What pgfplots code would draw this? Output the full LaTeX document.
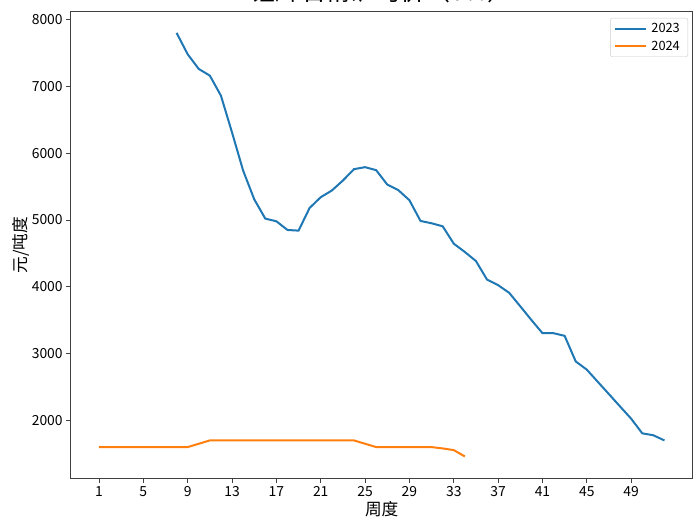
\documentclass[border=0pt]{standalone}
\usepackage{pgfplots}
\pgfplotsset{compat=1.18}
\usepackage{fontspec}
\setmainfont{Noto Sans CJK SC}
\usetikzlibrary{calc}
\definecolor{c0}{HTML}{1F77B4}
\definecolor{c1}{HTML}{FF7F0E}
\begin{document}
\begin{tikzpicture}
\begin{axis}[name=ax, width=622bp, height=466.6bp, scale only axis,
  xmin=-1.55, xmax=54.55, ymin=1133, ymax=8117,
  xtick={1,5,...,49}, ytick={2000,3000,...,8000},
  tick align=outside, major tick length=4.5bp, tick pos=left,
  axis line style={black!75, line width=0.8bp},
  tick style={black!75, line width=0.8bp},
  ticklabel style={font=\fontsize{13.9bp}{16bp}\selectfont},
  /pgf/number format/assume math mode=true,
  /pgf/number format/set thousands separator={},
  scaled ticks=false,
  xlabel={周度}, ylabel={元/吨度},
  label style={font=\fontsize{16.7bp}{20bp}\selectfont},
  xlabel style={at={(axis description cs:0.5,-0.0658)}, anchor=center},
  ylabel style={at={(axis description cs:-0.0799,0.5)}, anchor=center},
  title={锂辉石精矿均价（6\%）},
  title style={at={(axis description cs:0.5,1)}, anchor=base, yshift=5.5bp, font=\fontsize{25bp}{30bp}\selectfont},
  legend style={at={(axis description cs:0.9925,0.9865)}, anchor=north east, draw=black!20, rounded corners=2bp, font=\fontsize{12.8bp}{15bp}\selectfont, row sep=3bp, inner xsep=4bp, inner ysep=3bp,
    nodes={inner xsep=4bp}},
  legend cell align=left,
  legend image code/.code={\draw[#1, line width=2bp] (0bp,0bp) -- (31bp,0bp);},
]
\addplot[c0, line width=2bp] coordinates {
(8,7800) (9,7480) (10,7260) (11,7160) (12,6860) (13,6310) (14,5740) (15,5310) (16,5020) (17,4980)
(18,4850) (19,4840) (20,5180) (21,5340) (22,5440) (23,5590) (24,5760) (25,5790) (26,5745) (27,5530)
(28,5446) (29,5295) (30,4985) (31,4950) (32,4905) (33,4645) (34,4520) (35,4385) (36,4107) (37,4024)
(38,3909) (39,3707) (40,3503) (41,3305) (42,3305) (43,3265) (44,2882) (45,2759) (46,2575) (47,2392)
(48,2208) (49,2025) (50,1806) (51,1777) (52,1700)
};
\addlegendentry{2023}
\addplot[c1, line width=2bp] coordinates {
(1,1600) (2,1600) (3,1600) (4,1600) (5,1600) (6,1600) (7,1600) (8,1600) (9,1600) (10,1650)
(11,1700) (12,1700) (13,1700) (14,1700) (15,1700) (16,1700) (17,1700) (18,1700) (19,1700) (20,1700)
(21,1700) (22,1700) (23,1700) (24,1700) (25,1650) (26,1600) (27,1600) (28,1600) (29,1600) (30,1600)
(31,1600) (32,1580) (33,1555) (34,1460)
};
\addlegendentry{2024}
\end{axis}
\pgfresetboundingbox
\path[use as bounding box] ($(ax.south west)+(-70.7bp,-40.7bp)$) rectangle ($(ax.north east)+(4.3bp,11.7bp)$);
\end{tikzpicture}
\end{document}
